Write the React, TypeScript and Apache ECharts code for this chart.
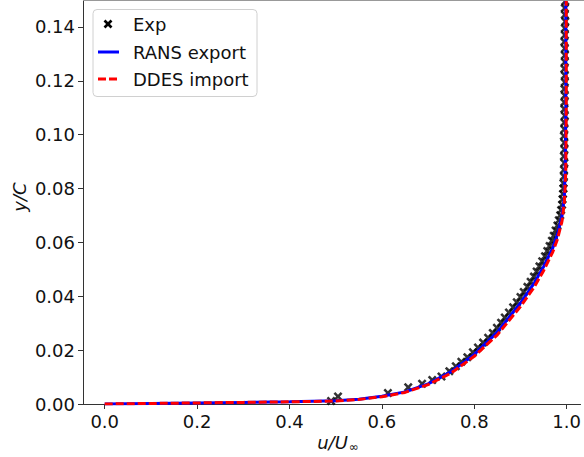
import React, { useEffect, useRef } from "react";
import * as echarts from "echarts";

// ---- data (u/U_inf, y/C) ----
const xTicks = [0.0, 0.2, 0.4, 0.6, 0.8, 1.0];
const yTicks = [0.0, 0.02, 0.04, 0.06, 0.08, 0.1, 0.12, 0.14];

const ransU = [0, 0.1, 0.2, 0.3, 0.4, 0.5, 0.55, 0.6, 0.65, 0.7, 0.75, 0.8, 0.85, 0.9, 0.93, 0.95, 0.97, 0.98, 0.99, 0.995, 0.997, 0.998, 0.998];
const ransY = [0, 0.0002, 0.0004, 0.0006, 0.0008, 0.0012, 0.0018, 0.0029, 0.0045, 0.0075, 0.012, 0.0184, 0.0267, 0.0375, 0.045, 0.051, 0.058, 0.063, 0.07, 0.077, 0.09, 0.11, 0.15];

const ddesU = [0, 0.1, 0.2, 0.3, 0.4, 0.5, 0.55, 0.6, 0.65, 0.7, 0.75, 0.8, 0.85, 0.9, 0.93, 0.95, 0.97, 0.98, 0.99, 0.995, 0.998, 0.999, 0.999];
const ddesY = [0, 0.0002, 0.0004, 0.0006, 0.0008, 0.0011, 0.0017, 0.0027, 0.0043, 0.0072, 0.0115, 0.0177, 0.0257, 0.0362, 0.0435, 0.0495, 0.0565, 0.0612, 0.068, 0.075, 0.086, 0.11, 0.15];

const expU = [
  0.49, 0.505, 0.613, 0.657, 0.687, 0.709, 0.729, 0.746, 0.76, 0.772, 0.785, 0.797, 0.808, 0.819, 0.83, 0.84,
  0.849, 0.858, 0.866, 0.875, 0.884, 0.892, 0.9, 0.907, 0.915, 0.922, 0.929, 0.935, 0.941, 0.947, 0.953, 0.958,
  0.963, 0.968, 0.972, 0.976, 0.98, 0.983, 0.986, 0.988, 0.99, 0.991, 0.992, 0.993, 0.993,
  0.994, 0.994, 0.995, 0.994, 0.995, 0.995, 0.994, 0.995, 0.995, 0.996, 0.995, 0.995, 0.996, 0.995, 0.996,
  0.996, 0.995, 0.996, 0.996, 0.996, 0.995, 0.996, 0.996, 0.997, 0.996, 0.996, 0.997, 0.996,
];
const expY = [
  0.0011, 0.0028, 0.0041, 0.0062, 0.0075, 0.0089, 0.0102, 0.0122, 0.014, 0.0157, 0.0174, 0.0192, 0.021, 0.0228, 0.0246, 0.0264,
  0.0283, 0.0302, 0.0321, 0.034, 0.0359, 0.0378, 0.0397, 0.0416, 0.0435, 0.0454, 0.0473, 0.0492, 0.0511, 0.053, 0.0549, 0.0568,
  0.0587, 0.0606, 0.0625, 0.0644, 0.0663, 0.0682, 0.0701, 0.072, 0.074, 0.076, 0.078, 0.08, 0.082,
  0.0845, 0.087, 0.0895, 0.092, 0.0945, 0.097, 0.0995, 0.102, 0.1045, 0.107, 0.1095, 0.112, 0.1145, 0.117, 0.1195,
  0.122, 0.1245, 0.127, 0.1295, 0.132, 0.1345, 0.137, 0.1395, 0.142, 0.1445, 0.147, 0.1495, 0.152,
];

const legendNames = ["Exp", "RANS export", "DDES import"];

const pairs = (xs: number[], ys: number[]) => xs.map((x, i) => [x, ys[i]]);

const FONT = "DejaVu Sans";
const FS = 18;
const X_MARK = "path://M0,2 L2,0 L5,3 L8,0 L10,2 L7,5 L10,8 L8,10 L5,7 L2,10 L0,8 L3,5 Z";

export default function App() {
  const ref = useRef<HTMLDivElement>(null);
  useEffect(() => {
    if (!ref.current) return;
    const chart = echarts.init(ref.current, undefined, { renderer: "svg" });
    const axisLineStyle = { color: "#333", width: 1 };
    chart.setOption({
      animation: false,
      backgroundColor: "#fff",
      textStyle: { fontFamily: FONT },
      grid: { left: 83, top: 0, right: 0, bottom: 53, containLabel: false },
      xAxis: {
        type: "value",
        min: -0.047,
        max: 1.03,
        axisLine: { show: true, onZero: false, lineStyle: axisLineStyle },
        axisTick: { show: true, length: 5, lineStyle: axisLineStyle, customValues: xTicks },
        axisLabel: {
          fontSize: FS,
          color: "#111",
          fontFamily: FONT,
          margin: 8,
          customValues: xTicks,
          formatter: (v: number) => v.toFixed(1),
        },
        splitLine: { show: false },
      },
      yAxis: {
        type: "value",
        min: 0,
        max: 0.15,
        axisLine: { show: true, onZero: false, lineStyle: axisLineStyle },
        axisTick: { show: true, length: 5, lineStyle: axisLineStyle, customValues: yTicks },
        axisLabel: {
          fontSize: FS,
          color: "#111",
          fontFamily: FONT,
          margin: 8,
          customValues: yTicks,
          formatter: (v: number) => v.toFixed(2),
        },
        splitLine: { show: false },
      },
      series: [
        {
          name: legendNames[0],
          type: "scatter",
          data: pairs(expU, expY),
          symbol: X_MARK,
          symbolSize: 9,
          itemStyle: { color: "#000" },
          clip: true,
          z: 1,
        },
        {
          name: legendNames[1],
          type: "line",
          data: pairs(ransU, ransY),
          showSymbol: false,
          symbol: "none",
          lineStyle: { color: "#0000ff", width: 3 },
          clip: true,
          z: 2,
        },
        {
          name: legendNames[2],
          type: "line",
          data: pairs(ddesU, ddesY),
          showSymbol: false,
          symbol: "none",
          lineStyle: { color: "#ff0000", width: 3, type: [8, 3] },
          clip: true,
          z: 3,
        },
      ],
      graphic: [
        {
          type: "line",
          shape: { x1: 83, y1: 0.5, x2: 584, y2: 0.5 },
          style: { stroke: "#999", lineWidth: 1 },
          z: 10,
        },
        {
          type: "text",
          x: 338,
          y: 442,
          style: {
            text: "{a|u/U}{b|∞}",
            align: "center",
            verticalAlign: "middle",
            fill: "#111",
            rich: {
              a: { fontFamily: FONT, fontSize: FS, fontStyle: "italic", fill: "#111", lineHeight: 22, verticalAlign: "middle" },
              b: { fontFamily: FONT, fontSize: 12, fill: "#111", lineHeight: 22, verticalAlign: "bottom", padding: [8, 0, 0, 1] },
            },
          },
        },
        {
          type: "text",
          x: 19,
          y: 197,
          rotation: Math.PI / 2,
          style: {
            text: "y/C",
            align: "center",
            verticalAlign: "middle",
            fontFamily: FONT,
            fontSize: FS,
            fontStyle: "italic",
            fill: "#111",
          },
        },
        {
          type: "group",
          z: 20,
          children: [
            {
              type: "rect",
              shape: { x: 93, y: 9.5, width: 164, height: 87, r: 4 },
              style: { fill: "rgba(255,255,255,0.8)", stroke: "#d0d0d0", lineWidth: 1 },
            },
            {
              type: "line",
              shape: { x1: 104.5, y1: 20.5, x2: 111.5, y2: 27.5 },
              style: { stroke: "#000", lineWidth: 2.6 },
            },
            {
              type: "line",
              shape: { x1: 104.5, y1: 27.5, x2: 111.5, y2: 20.5 },
              style: { stroke: "#000", lineWidth: 2.6 },
            },
            {
              type: "line",
              shape: { x1: 98, y1: 52, x2: 119, y2: 52 },
              style: { stroke: "#0000ff", lineWidth: 3 },
            },
            {
              type: "line",
              shape: { x1: 98, y1: 79, x2: 119, y2: 79 },
              style: { stroke: "#ff0000", lineWidth: 3, lineDash: [8, 3] },
            },
            {
              type: "text",
              x: 133,
              y: 24,
              style: { text: legendNames[0], fontFamily: FONT, fontSize: FS, fill: "#111", verticalAlign: "middle" },
            },
            {
              type: "text",
              x: 133,
              y: 52,
              style: { text: legendNames[1], fontFamily: FONT, fontSize: FS, fill: "#111", verticalAlign: "middle" },
            },
            {
              type: "text",
              x: 133,
              y: 79,
              style: { text: legendNames[2], fontFamily: FONT, fontSize: FS, fill: "#111", verticalAlign: "middle" },
            },
          ],
        },
      ],
    });
    return () => chart.dispose();
  }, []);
  return (
    <div
      ref={ref}
      style={{ position: "fixed", left: 0, top: 0, width: 584, height: 457, background: "#fff" }}
    />
  );
}
